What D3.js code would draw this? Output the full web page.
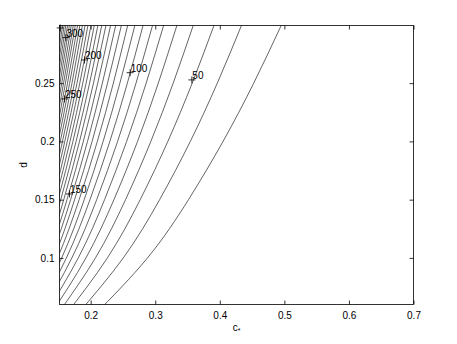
<!DOCTYPE html>
<html>
<head>
<meta charset="utf-8">
<script src="https://cdn.jsdelivr.net/npm/d3@7/dist/d3.min.js"></script>
<style>
body { margin: 0; background: #fff; }
svg text { font-family: "Liberation Sans", Arial, Helvetica, sans-serif; font-size: 10px; fill: #000; }
</style>
</head>
<body>
<div id="chart"></div>
<script>
// contour levels, and for each one the c value where it crosses each d row
var levels = [30, 40, 50, 60, 70, 80, 90, 100, 110, 120, 130, 140, 150, 160, 170,
    180, 190, 200, 210, 220, 230, 240, 250, 260, 270, 280, 290, 300, 310, 320, 330, 340, 350];
var dRows = [0.05, 0.10, 0.15, 0.20, 0.25, 0.30];
var cRows = [
    [0.2040, 0.2880, 0.3515, 0.4050, 0.4525, 0.4955],
    [0.1771, 0.2505, 0.3068, 0.3543, 0.3961, 0.4339],
    [0.1597, 0.2259, 0.2767, 0.3195, 0.3572, 0.3913],
    [0.1466, 0.2074, 0.2540, 0.2932, 0.3278, 0.3591],
    [0.1363, 0.1927, 0.2360, 0.2726, 0.3047, 0.3338],
    [0.1279, 0.1808, 0.2215, 0.2557, 0.2859, 0.3132],
    [0.1208, 0.1709, 0.2093, 0.2417, 0.2702, 0.2960],
    [0.1148, 0.1624, 0.1989, 0.2297, 0.2568, 0.2813],
    [0.1097, 0.1551, 0.1900, 0.2193, 0.2452, 0.2686],
    [0.1051, 0.1487, 0.1821, 0.2103, 0.2351, 0.2575],
    [0.1011, 0.1430, 0.1751, 0.2022, 0.2261, 0.2477],
    [0.0975, 0.1379, 0.1689, 0.1951, 0.2181, 0.2389],
    [0.0943, 0.1334, 0.1633, 0.1886, 0.2109, 0.2310],
    [0.0914, 0.1292, 0.1583, 0.1827, 0.2043, 0.2238],
    [0.0887, 0.1254, 0.1536, 0.1774, 0.1983, 0.2173],
    [0.0863, 0.1220, 0.1494, 0.1725, 0.1929, 0.2113],
    [0.0840, 0.1188, 0.1455, 0.1680, 0.1878, 0.2057],
    [0.0819, 0.1158, 0.1419, 0.1638, 0.1831, 0.2006],
    [0.0800, 0.1131, 0.1385, 0.1599, 0.1788, 0.1959],
    [0.0782, 0.1105, 0.1354, 0.1563, 0.1748, 0.1914],
    [0.0765, 0.1081, 0.1324, 0.1529, 0.1710, 0.1873],
    [0.0749, 0.1059, 0.1297, 0.1497, 0.1674, 0.1834],
    [0.0734, 0.1038, 0.1271, 0.1468, 0.1641, 0.1798],
    [0.0720, 0.1018, 0.1247, 0.1440, 0.1609, 0.1763],
    [0.0707, 0.0999, 0.1224, 0.1413, 0.1580, 0.1731],
    [0.0694, 0.0981, 0.1202, 0.1388, 0.1552, 0.1700],
    [0.0682, 0.0965, 0.1181, 0.1364, 0.1525, 0.1671],
    [0.0671, 0.0949, 0.1162, 0.1341, 0.1500, 0.1643],
    [0.0660, 0.0933, 0.1143, 0.1320, 0.1476, 0.1616],
    [0.0650, 0.0919, 0.1125, 0.1299, 0.1453, 0.1591],
    [0.0640, 0.0905, 0.1108, 0.1280, 0.1431, 0.1567],
    [0.0630, 0.0892, 0.1092, 0.1261, 0.1410, 0.1544],
    [0.0621, 0.0879, 0.1076, 0.1243, 0.1390, 0.1522]
];

// inline labels (clabel style: a + and the level next to it)
var labelText = ['50', '100', '150', '200', '250', '300', ''];
var labelC = [0.3567, 0.2611, 0.1672, 0.1904, 0.1594, 0.1616, 0.1528];
var labelD = [0.2528, 0.2590, 0.1549, 0.2699, 0.2365, 0.2891, 0.2974];

var xTicks = [0.2, 0.3, 0.4, 0.5, 0.6, 0.7];
var yTicks = [0.1, 0.15, 0.2, 0.25];

var W = 457, H = 344;
var pL = 59.5, pR = 413.5, pT = 25.5, pB = 304.5;

var svg = d3.select('#chart').append('svg')
    .attr('width', W)
    .attr('height', H);

svg.append('rect').attr('width', W).attr('height', H).attr('fill', '#fff');

var x = d3.scaleLinear().domain([0.1517, 0.7]).range([pL, pR]);
var y = d3.scaleLinear().domain([0.06, 0.2995]).range([pB, pT]);

svg.append('clipPath').attr('id', 'plotclip')
    .append('rect')
    .attr('x', pL).attr('y', pT)
    .attr('width', pR - pL).attr('height', pB - pT);

var line = d3.line()
    .x(function(p){ return x(p[0]); })
    .y(function(p){ return y(p[1]); })
    .curve(d3.curveNatural);

var contours = levels.map(function(lv, i){
    return cRows[i].map(function(c, j){ return [c, dRows[j]]; });
});

svg.append('g')
    .attr('clip-path', 'url(#plotclip)')
    .selectAll('path')
    .data(contours)
    .enter()
    .append('path')
    .attr('d', line)
    .attr('fill', 'none')
    .attr('stroke', '#222')
    .attr('stroke-width', 0.7);

// + markers and level text
var marks = svg.append('g');
labelText.forEach(function(t, i){
    var px = x(labelC[i]), py = y(labelD[i]);
    marks.append('path')
        .attr('d', 'M' + (px - 3.5) + ',' + py + 'H' + (px + 3.5) + 'M' + px + ',' + (py - 3.5) + 'V' + (py + 3.5))
        .attr('stroke', '#000')
        .attr('stroke-width', 0.8);
    if( t ){
        marks.append('text')
            .attr('x', px + 0.5)
            .attr('y', py - 0.5)
            .text(t);
    }
});

// axes, ticks pointing inward on all four sides
var fmt = function(d){ return String(d); };

var gx = svg.append('g')
    .attr('transform', 'translate(0,' + pB + ')')
    .call(d3.axisBottom(x).tickValues(xTicks).tickFormat(fmt).tickSize(-4).tickPadding(7));
var gxt = svg.append('g')
    .attr('transform', 'translate(0,' + pT + ')')
    .call(d3.axisTop(x).tickValues(xTicks).tickFormat('').tickSize(-4));
var gy = svg.append('g')
    .attr('transform', 'translate(' + pL + ',0)')
    .call(d3.axisLeft(y).tickValues(yTicks).tickFormat(fmt).tickSize(-4).tickPadding(5));
var gyr = svg.append('g')
    .attr('transform', 'translate(' + pR + ',0)')
    .call(d3.axisRight(y).tickValues(yTicks).tickFormat('').tickSize(-4));

[gx, gxt, gy, gyr].forEach(function(g){
    g.select('.domain').remove();
    g.selectAll('line').attr('stroke', '#000').attr('stroke-width', 0.8);
    g.selectAll('text')
        .style('font-family', '"Liberation Sans", Arial, Helvetica, sans-serif')
        .style('font-size', '10px')
        .attr('fill', '#000');
});

svg.append('rect')
    .attr('x', pL).attr('y', pT)
    .attr('width', pR - pL).attr('height', pB - pT)
    .attr('fill', 'none')
    .attr('stroke', '#000')
    .attr('stroke-width', 0.8);

// axis titles
var xl = svg.append('text')
    .attr('x', (pL + pR) / 2)
    .attr('y', 331)
    .attr('text-anchor', 'middle');
xl.append('tspan').text('c');
xl.append('tspan').attr('dy', 2).style('font-size', '7px').text('*');

svg.append('text')
    .attr('transform', 'translate(26.5,' + ((pT + pB) / 2) + ') rotate(-90)')
    .attr('text-anchor', 'middle')
    .text('d');
</script>
</body>
</html>
